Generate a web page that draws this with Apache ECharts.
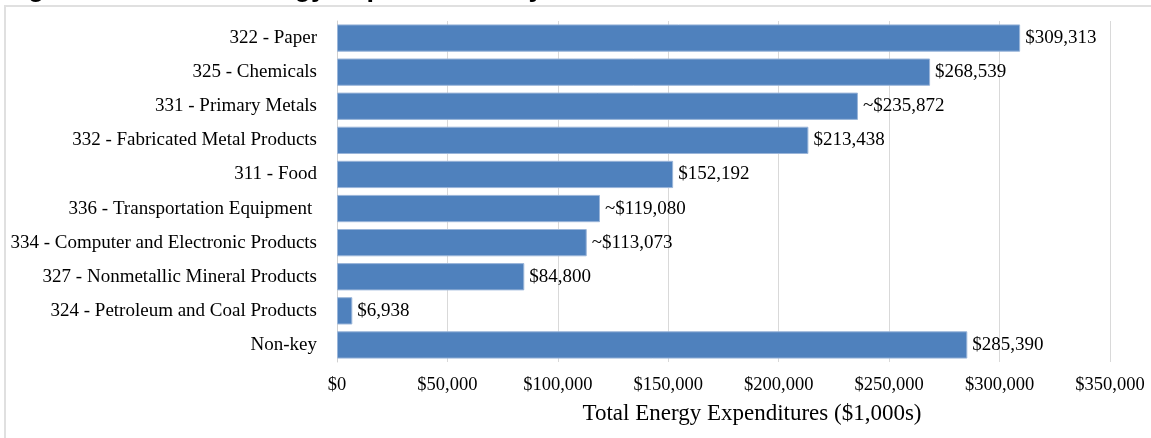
<!DOCTYPE html>
<html>
<head>
<meta charset="utf-8">
<title>Total Energy Expenditures</title>
<script src="https://cdn.jsdelivr.net/npm/echarts@6/dist/echarts.min.js"></script>
<style>
  html, body { margin: 0; padding: 0; background: #fff; }
  #chart { width: 1151px; height: 438px; }
</style>
</head>
<body>
<div id="chart"></div>
<script>
// 行业类别（从上到下）
var categories = [
  '322 - Paper',
  '325 - Chemicals',
  '331 - Primary Metals',
  '332 - Fabricated Metal Products',
  '311 - Food',
  '336 - Transportation Equipment ',
  '334 - Computer and Electronic Products',
  '327 - Nonmetallic Mineral Products',
  '324 - Petroleum and Coal Products',
  'Non-key'
]
// 能源支出 ($1,000s)
var expenditures = [309313, 268539, 235872, 213438, 152192, 119080, 113073, 84800, 6938, 285390]
// 估算值前面加 ~
var approx = [false, false, true, false, false, true, true, false, false, false]
var ticks = [0, 50000, 100000, 150000, 200000, 250000, 300000, 350000]

var serif = '"Liberation Serif", "Times New Roman", serif'

function money(v) {
  return '$' + Number(v).toLocaleString('en-US')
}

var myChart = echarts.init(document.getElementById('chart'))
var option = {
  backgroundColor: '#fff',
  animation: false,
  graphic: [
    {
      type: 'rect',
      shape: { x: 5, y: 6, width: 1200, height: 500 },
      style: { fill: 'none', stroke: '#E0E0E0', lineWidth: 2 },
      silent: true
    },
    {
      // 标题被裁掉了，只露出下伸部分
      type: 'text',
      left: 4,
      top: -25,
      style: {
        text: 'Figure 2-10: Total Energy Expenditures by NAICS Code',
        font: 'bold 27px "Liberation Sans", Arial, sans-serif',
        fill: '#000'
      },
      silent: true
    }
  ],
  grid: {
    left: 337,
    right: 41,
    top: 21,
    bottom: 76
  },
  xAxis: {
    type: 'value',
    min: ticks[0],
    max: ticks[ticks.length - 1],
    interval: ticks[1] - ticks[0],
    name: 'Total Energy Expenditures ($1,000s)',
    nameLocation: 'middle',
    nameGap: 40,
    nameTextStyle: {
      fontFamily: serif,
      fontSize: 23,
      color: '#000',
      padding: [0, 0, 0, 57]
    },
    axisLine: { show: false },
    axisTick: { show: false },
    axisLabel: {
      formatter: money,
      fontFamily: serif,
      fontSize: 18.5,
      color: '#000',
      margin: 14
    },
    splitLine: {
      lineStyle: { color: '#D9D9D9', width: 1 }
    }
  },
  yAxis: {
    type: 'category',
    inverse: true,
    data: categories,
    axisLine: { show: true, lineStyle: { color: '#D0D0D0' } },
    axisTick: { show: false },
    axisLabel: {
      interval: 0,
      fontFamily: serif,
      fontSize: 19,
      color: '#000',
      margin: 20
    }
  },
  series: [
    {
      type: 'bar',
      data: expenditures,
      barCategoryGap: '20%',
      itemStyle: {
        color: '#4F81BD',
        borderColor: '#9AB5D9',
        borderWidth: 1
      },
      label: {
        show: true,
        position: 'right',
        distance: 5,
        fontFamily: serif,
        fontSize: 19,
        color: '#000',
        formatter: function(p) {
          return (approx[p.dataIndex] ? '~' : '') + money(p.value)
        }
      }
    }
  ]
}
myChart.setOption(option)
</script>
</body>
</html>
